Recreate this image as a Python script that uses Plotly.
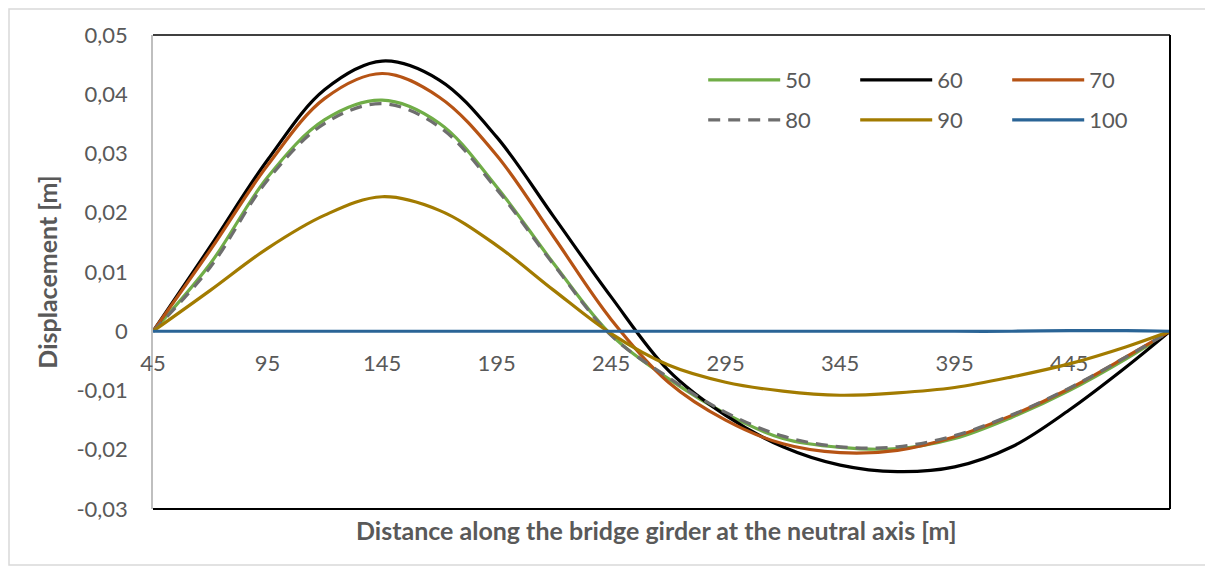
import plotly.graph_objects as go

# distance along the girder [m]
x_m = [45, 70, 95, 120, 145, 170, 195, 220, 245, 270, 295, 320, 345, 370, 395, 420, 445, 470, 489]

# displacement [m] per case
d50 = [0, 0.0114, 0.0260, 0.0357, 0.0390, 0.0351, 0.0244, 0.0114, -0.0006, -0.0080, -0.0139,
       -0.0181, -0.0196, -0.0198, -0.0181, -0.0145, -0.0100, -0.0046, 0]
d60 = [0, 0.0143, 0.0289, 0.0408, 0.0456, 0.0424, 0.0328, 0.0193, 0.0058, -0.0066, -0.0142,
       -0.0195, -0.0226, -0.0237, -0.0229, -0.0195, -0.0133, -0.0060, 0]
d70 = [0, 0.0137, 0.0280, 0.0393, 0.0435, 0.0395, 0.0297, 0.0159, 0.0020, -0.0086, -0.0150,
       -0.0190, -0.0205, -0.0201, -0.0178, -0.0142, -0.0097, -0.0043, 0]
d80 = [0, 0.0108, 0.0255, 0.0351, 0.0384, 0.0345, 0.0240, 0.0112, -0.0007, -0.0078, -0.0137,
       -0.0177, -0.0195, -0.0195, -0.0176, -0.0141, -0.0096, -0.0043, 0]
d90 = [0, 0.0069, 0.0140, 0.0196, 0.0227, 0.0204, 0.0145, 0.0069, -0.0004, -0.0057, -0.0086,
       -0.0101, -0.0108, -0.0104, -0.0095, -0.0077, -0.0055, -0.0026, 0]
d100 = [0, 0, 0, 0, 0, 0, 0, 0, 0, 0, 0, 0, 0, 0, 0, 0, 0.0001, 0.0001, 0]

series_names = ["50", "60", "70", "80", "90", "100"]
series_vals = [d50, d60, d70, d80, d90, d100]
colors = ["#70AD47", "#000000", "#B65314", "#6E6E6E", "#A27B00", "#2A6496"]
dashes = ["solid", "solid", "solid", "12px,8px", "solid", "solid"]
legend_rows = ["legend", "legend", "legend", "legend2", "legend2", "legend2"]

x_ticks = [45, 95, 145, 195, 245, 295, 345, 395, 445]
y_ticks = [-0.03, -0.02, -0.01, 0, 0.01, 0.02, 0.03, 0.04, 0.05]
y_labels = ["-0,03", "-0,02", "-0,01", "0", "0,01", "0,02", "0,03", "0,04", "0,05"]

grey = "#595959"
font = "Lato"

fig = go.Figure()
for name, vals, c, d, lg in zip(series_names, series_vals, colors, dashes, legend_rows):
    fig.add_trace(go.Scatter(x=x_m, y=vals, name=name, mode="lines", legend=lg,
                             line=dict(color=c, width=3.2, dash=d, shape="spline", smoothing=1.0)))

y_min, y_max = -0.03, 0.05
zero_pos = (0 - y_min) / (y_max - y_min)

legend_style = dict(orientation="h", x=0.541, xanchor="left", yanchor="middle",
                    entrywidth=65, itemwidth=72,
                    font=dict(size=22, color=grey, family=font), bgcolor="rgba(0,0,0,0)")

fig.update_layout(
    width=1205, height=562, autosize=False,
    margin=dict(l=145, r=43, t=27, b=61),
    paper_bgcolor="white", plot_bgcolor="white",
    font=dict(family=font, size=22, color=grey),
    xaxis=dict(range=[45, 489], tickvals=x_ticks, showgrid=False, zeroline=False,
               showline=True, linecolor="#BFBFBF", linewidth=1.5, layer="below traces",
               anchor="free", position=zero_pos,
               ticks="outside", ticklen=13, tickcolor="rgba(0,0,0,0)",
               tickfont=dict(size=22, color=grey, family=font)),
    yaxis=dict(range=[y_min, y_max], tickvals=y_ticks, ticktext=y_labels,
               showgrid=False, zeroline=False, showline=True, linecolor="#BFBFBF", linewidth=1.5,
               layer="below traces",
               ticks="outside", ticklen=19, tickcolor="rgba(0,0,0,0)",
               tickfont=dict(size=22, color=grey, family=font),
               title=dict(text="<b>Displacement [m]</b>", standoff=12,
                          font=dict(size=25, color=grey, family=font))),
    legend=dict(y=0.905, **legend_style),
    legend2=dict(y=0.8207, **legend_style),
    annotations=[dict(text="<b>Distance along the bridge girder at the neutral axis [m]</b>",
                      xref="paper", yref="paper", x=0.4946, y=-0.0443,
                      xanchor="center", yanchor="middle",
                      showarrow=False, font=dict(size=25, color=grey, family=font))],
    shapes=[
        dict(type="line", xref="paper", yref="paper", x0=0, x1=1, y0=1, y1=1,
             line=dict(color="black", width=1.5)),
        dict(type="line", xref="paper", yref="paper", x0=1, x1=1, y0=0, y1=1,
             line=dict(color="black", width=2)),
        dict(type="line", xref="paper", yref="paper", x0=0, x1=1, y0=0, y1=0,
             line=dict(color="black", width=2)),
        dict(type="rect", xref="paper", yref="paper", x0=-0.1416, x1=1.0354, y0=-0.118, y1=1.0549,
             line=dict(color="#D9D9D9", width=1.5)),
    ],
)

fig.write_html("out.html")
